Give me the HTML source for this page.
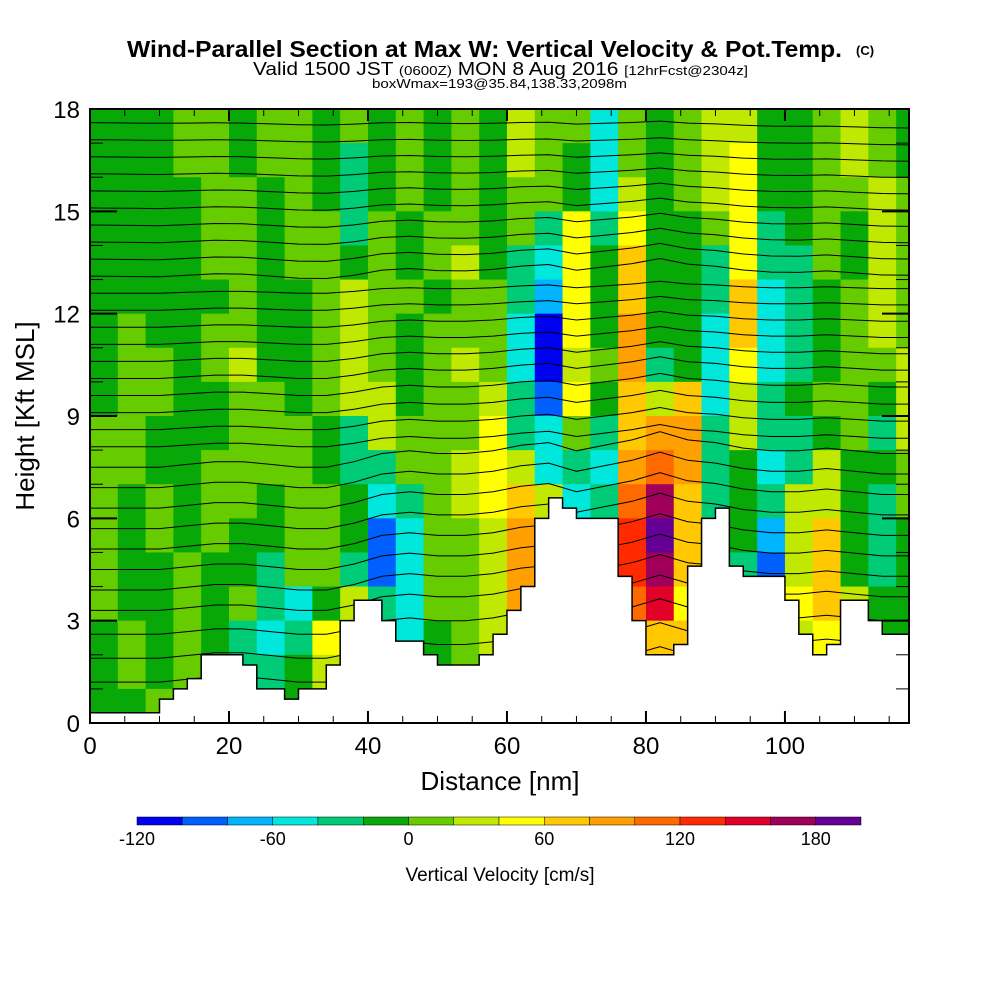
<!DOCTYPE html>
<html><head><meta charset="utf-8"><style>
html,body{margin:0;padding:0;background:#fff}
svg{display:block}
text{font-family:"Liberation Sans",Arial,sans-serif}
</style></head><body>
<svg id="chart" width="1000" height="1000" viewBox="0 0 1000 1000" xmlns="http://www.w3.org/2000/svg">
<text x="127" y="57" font-size="23" font-weight="bold" textLength="715" lengthAdjust="spacingAndGlyphs">Wind-Parallel Section at Max W: Vertical Velocity &amp; Pot.Temp.</text>
<text x="856" y="55" font-size="13" font-weight="bold">(C)</text>
<text x="253" y="75" font-size="18" textLength="495" lengthAdjust="spacingAndGlyphs">Valid 1500 JST <tspan font-size="13">(0600Z)</tspan> MON 8 Aug 2016 <tspan font-size="13">[12hrFcst@2304z]</tspan></text>
<text x="372" y="88" font-size="13" textLength="255" lengthAdjust="spacingAndGlyphs">boxWmax=193@35.84,138.33,2098m</text>
<defs><clipPath id="pc"><rect x="90" y="109" width="819" height="614"/></clipPath></defs>
<g id="cells" clip-path="url(#pc)"></g>
<g id="contours" clip-path="url(#pc)"></g>
<g id="terrain" clip-path="url(#pc)"></g>
<g id="axes"></g>
<text x="500" y="790" text-anchor="middle" font-size="26">Distance [nm]</text>
<text transform="translate(34,416) rotate(-90)" text-anchor="middle" font-size="26">Height [Kft MSL]</text>
<g id="cbar"></g>
<text x="500" y="881" text-anchor="middle" font-size="19">Vertical Velocity [cm/s]</text>
</svg>
<script>
// ---- data ----
const xTicks=[0,20,40,60,80,100];
const yTicks=[0,3,6,9,12,15,18];
const cbLabels=[-120,-60,0,60,120,180];
const levelBounds=[-120,-100,-80,-60,-40,-20,0,20,40,60,80,100,120,140,160,180,200];
const levelColors=["#0000f0","#0060ff","#00b4ff","#00e8dc","#00cc78","#08a808","#66cc00","#c0e800","#ffff00","#ffc800","#ffa000","#ff6a00","#ff2a00","#e00028","#a0005a","#640096"];
const terrainX0=0, terrainStep=2;
const terrainH=[0.3,0.3,0.3,0.3,0.3,0.7,1.0,1.3,2.0,2.0,2.0,1.7,1.0,1.0,0.7,1.0,1.0,1.7,3.0,3.6,3.6,3.0,2.4,2.4,2.0,1.7,1.7,1.7,2.0,2.6,3.3,4.0,6.0,6.6,6.3,6.0,6.0,6.0,4.3,3.0,2.0,2.0,2.3,4.6,6.0,6.3,4.6,4.3,4.3,4.3,3.6,2.6,2.0,2.3,3.6,3.6,3.0,2.6,2.6];
const g=-10,l=10,y=30,Y=50,o=70,O=90,r=110,R=130,d=150,m=170,p=190,t=-30,c=-50,b=-70,B=-90,n=-110;
const wRows=[ // top (17-18 kft) to bottom (0-1 kft), 4 nm columns
[g,g,g,l,l,g,l,l,g,l,g,l,g,l,g,y,l,l,c,l,g,l,y,y,g,g,l,y,l,g],
[g,g,g,l,l,g,l,l,g,t,g,l,g,l,g,y,l,g,c,l,g,l,y,Y,g,g,l,y,l,g],
[g,g,g,g,l,l,g,l,g,t,g,l,g,l,g,l,l,g,c,y,g,l,y,Y,g,g,l,l,y,l],
[g,g,g,g,l,l,g,l,l,t,l,g,l,l,g,l,t,Y,t,Y,g,g,l,Y,t,g,l,g,y,l],
[g,g,g,g,l,l,g,l,l,g,l,g,l,y,g,t,c,Y,g,o,g,g,t,Y,t,t,l,g,y,l],
[g,g,g,g,g,l,g,g,l,y,l,l,g,l,l,t,b,Y,g,o,g,g,t,o,c,t,g,l,y,l],
[g,l,g,g,l,l,g,g,l,y,l,g,l,l,l,c,n,Y,g,O,g,g,c,o,c,t,g,l,y,l],
[g,l,l,g,l,y,g,g,l,y,l,g,l,y,l,c,n,y,l,O,t,g,c,Y,c,t,g,l,l,y],
[g,l,l,g,g,l,l,g,l,y,y,g,l,l,y,t,B,Y,g,o,y,o,c,y,t,g,l,l,g,y],
[l,l,g,g,g,l,l,l,g,t,y,l,l,l,Y,t,c,l,t,o,O,O,t,y,t,t,g,l,t,y],
[l,l,g,g,l,l,l,l,g,t,t,l,l,y,Y,y,c,t,c,O,r,O,t,g,c,t,y,g,g,l],
[l,g,l,g,l,l,g,l,l,g,c,t,l,y,Y,o,y,c,t,r,m,o,t,g,t,y,y,g,t,l],
[l,g,l,g,l,g,g,l,l,g,B,c,l,l,y,O,y,b,B,R,p,o,c,g,b,y,o,g,t,g],
[l,g,g,l,g,g,t,l,l,t,B,c,l,l,y,O,Y,b,B,R,m,o,c,t,B,y,o,g,t,g],
[l,g,g,l,g,l,t,c,g,y,t,c,l,l,y,O,Y,t,t,r,d,Y,t,t,c,Y,o,y,g,g],
[g,l,g,l,g,t,c,t,Y,y,t,c,g,l,y,y,Y,t,l,Y,o,o,t,g,t,y,Y,g,g,g],
[g,l,g,l,g,t,t,g,y,y,g,g,g,l,y,l,l,l,l,Y,Y,y,l,g,t,l,Y,g,g,g],
[g,g,l,g,l,g,t,g,y,y,g,g,g,l,l,l,l,l,l,l,y,l,l,g,t,l,y,g,g,g]];
const colWidthNm=4, rowHeightKft=1;
const contourLevels=[1.2,1.9,2.6,3.3,3.9,4.5,5.1,5.7,6.3,6.9,7.5,8.1,8.6,9.1,9.6,10.1,10.6,11.1,11.6,12.1,12.6,13.1,13.6,14.1,14.6,15.1,15.6,16.1,16.6,17.1,17.6];
const contourBump=[0,0,0,0.1,0.2,0.2,0.1,0,0,0.2,0.5,0.6,0.5,0.5,0.6,0.8,0.9,0.6,0.8,1.0,1.3,1.0,0.9,0.7,0.6,0.6,0.7,0.6,0.5,0.5];
// ---- scales ----
const X0=90,X1=909,Y0=723,Y1=109,XMAX=117.85,YMAX=18;
const sx=v=>X0+v*(X1-X0)/XMAX;
const sy=v=>Y0-v*(Y0-Y1)/YMAX;
const NS="http://www.w3.org/2000/svg";
function mk(tag,attrs,parent){const e=document.createElementNS(NS,tag);for(const k in attrs)e.setAttribute(k,attrs[k]);parent.appendChild(e);return e;}
function colorOf(v){let i=Math.floor((v-levelBounds[0])/20);i=Math.max(0,Math.min(levelColors.length-1,i));return levelColors[i];}
// cells
const cg=document.getElementById('cells');
wRows.forEach((row,ri)=>{const top=YMAX-ri*rowHeightKft;row.forEach((v,ci)=>{
 const x0=sx(ci*colWidthNm),x1=sx((ci+1)*colWidthNm);
 const e=mk('rect',{x:x0,y:sy(top),width:x1-x0+0.6,height:sy(top-rowHeightKft)-sy(top)+0.6,fill:colorOf(v)},cg);
 
 
});});
// contours
const ctg=document.getElementById('contours');
contourLevels.forEach(lv=>{
 const wgt=lv<10?1:Math.max(0.2,1-(lv-10)/9);
 let pts=[];
 for(let i=0;i<contourBump.length;i++){const xn=(i+0.5)*colWidthNm;
  const dip=lv>8&&lv<13?-0.3*contourBump[i]:0;
  pts.push(sx(xn).toFixed(1)+','+sy(lv+contourBump[i]*wgt*0.8+dip-(lv>13?0.02*xn*0.1:0)).toFixed(1));}
 pts.unshift(sx(0)+','+sy(lv).toFixed(1));
 const e=mk('polyline',{points:pts.join(' '),fill:'none',stroke:'#000','stroke-width':1},ctg);
 
 
});
// terrain
const tg=document.getElementById('terrain');
let tp=[sx(0)+','+(Y0+2)];
terrainH.forEach((h,i)=>{const a=terrainX0+i*terrainStep;tp.push(sx(a)+','+sy(h));tp.push(sx(a+terrainStep)+','+sy(h));});
tp.push(sx(XMAX+1)+','+(Y0+2));
const te=mk('polygon',{points:tp.join(' '),fill:'#fff',stroke:'#000','stroke-width':1.5},tg);


// axes
const ag=document.getElementById('axes');
const fr=mk('rect',{x:X0,y:Y1,width:X1-X0,height:Y0-Y1,fill:'none',stroke:'#000','stroke-width':2},ag);


for(let v=0;v<=115;v+=5){const maj=v%20===0,len=maj?12:7;
 mk('line',{x1:sx(v),x2:sx(v),y1:Y0,y2:Y0-len,stroke:'#000','stroke-width':maj?2:1},ag);
 mk('line',{x1:sx(v),x2:sx(v),y1:Y1,y2:Y1+len,stroke:'#000','stroke-width':maj?2:1},ag);}
for(let v=0;v<=18;v+=1){const maj=v%3===0,len=maj?27:13;
 mk('line',{x1:X0,x2:X0+len,y1:sy(v),y2:sy(v),stroke:'#000','stroke-width':maj?2:1},ag);
 mk('line',{x1:X1,x2:X1-len,y1:sy(v),y2:sy(v),stroke:'#000','stroke-width':maj?2:1},ag);}
xTicks.forEach(v=>{const e=mk('text',{x:sx(v),y:754,'text-anchor':'middle','font-size':24},ag);e.textContent=v;
 
 });
yTicks.forEach(v=>{const e=mk('text',{x:80,y:sy(v)+9,'text-anchor':'end','font-size':24},ag);e.textContent=v;
 
 });
// colorbar
const cb=document.getElementById('cbar');
const CB0=137,CB1=861,cbs=v=>CB0+(v+120)*(CB1-CB0)/320;
levelColors.forEach((col,i)=>{const e=mk('rect',{x:cbs(levelBounds[i]),y:817,width:cbs(levelBounds[i+1])-cbs(levelBounds[i]),height:8,fill:col,stroke:'#000','stroke-width':0.5},cb);
 
 });
cbLabels.forEach(v=>{const e=mk('text',{x:cbs(v),y:845,'text-anchor':'middle','font-size':18},cb);e.textContent=v;
 
 });
</script>
</body></html>
